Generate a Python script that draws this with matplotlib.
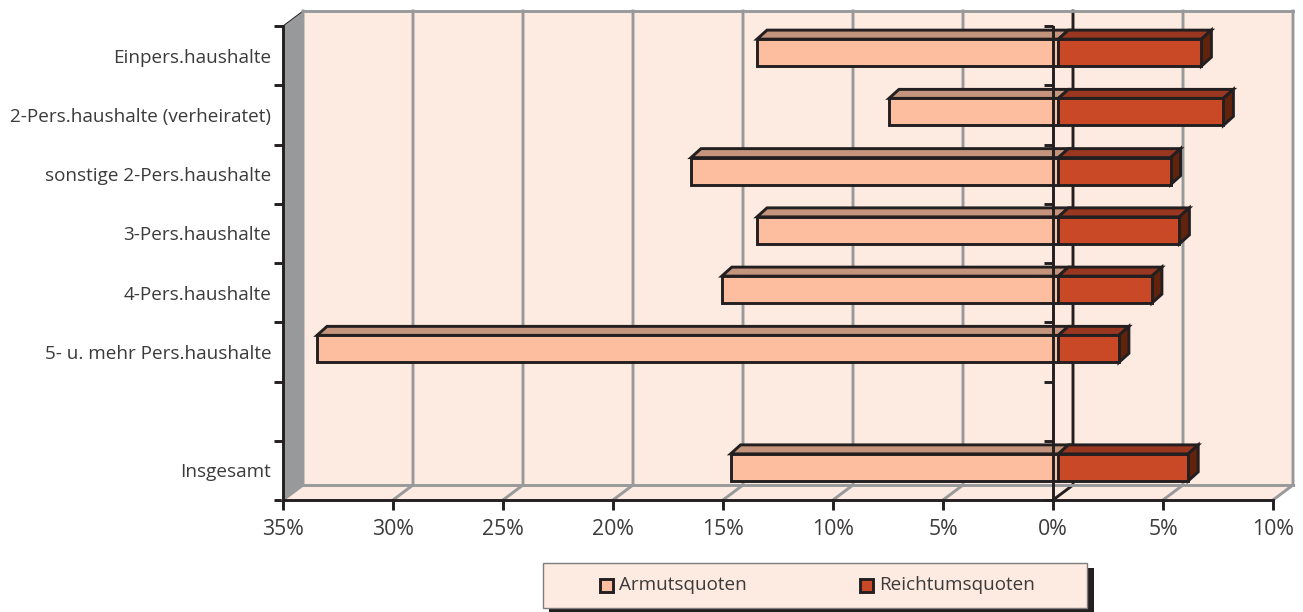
import matplotlib
matplotlib.use("Agg")
import matplotlib.pyplot as plt
from matplotlib.patches import Polygon, Rectangle
import numpy as np

kategorien = [
    "Einpers.haushalte",
    "2-Pers.haushalte (verheiratet)",
    "sonstige 2-Pers.haushalte",
    "3-Pers.haushalte",
    "4-Pers.haushalte",
    "5- u. mehr Pers.haushalte",
    "",
    "Insgesamt",
]
armut = [-13.7, -7.7, -16.7, -13.7, -15.3, -33.7, np.nan, -14.9]
reichtum = [6.5, 7.5, 5.1, 5.5, 4.25, 2.75, np.nan, 5.9]
x_ticks = [-35, -30, -25, -20, -15, -10, -5, 0, 5, 10]

plt.rcParams["font.family"] = ["Open Sans", "DejaVu Sans"]

W, H = 1303, 612
SCHWARZ = "#231f20"
GRAU = "#98999b"
PEACH = "#fdeae0"
TEXT = "#3c3a3b"
FS = 13.6
FS_X = 15.3
LW = 2.1

# Abstaende in Pixel umgerechnet auf Datenkoordinaten
PX_X = 1 / 22.0
PX_Y = 1 / 59.25


def dx(px):
    return px * PX_X


def dy(px):
    return px * PX_Y


fig = plt.figure(figsize=(W / 100, H / 100), dpi=100)
ax = fig.add_axes([283 / W, 1 - 500 / H, 990 / W, 474 / H])
ax.set_xlim(-35, 10)
ax.set_ylim(8, 0)
ax.patch.set_visible(False)
for s in ["top", "right"]:
    ax.spines[s].set_visible(False)
for s in ["left", "bottom"]:
    ax.spines[s].set_linewidth(LW)
    ax.spines[s].set_color(SCHWARZ)
    ax.spines[s].set_zorder(6)

# 3D Kasten
tx, ty = dx(20), dy(15)
ax.add_patch(Polygon([(-35 + tx, -ty), (10 + tx, -ty), (10 + tx, 8 - ty), (-35 + tx, 8 - ty)],
                     fc=PEACH, ec="none", zorder=0, clip_on=False))
ax.add_patch(Polygon([(-35, 8), (-35 + tx, 8 - ty), (10 + tx, 8 - ty), (10, 8)],
                     fc=PEACH, ec="none", zorder=0, clip_on=False))
ax.add_patch(Polygon([(-35, 0), (-35 + tx, -ty), (-35 + tx, 8 - ty), (-35, 8)],
                     fc=GRAU, ec="none", zorder=1, clip_on=False))
ax.plot([-35, -35 + tx], [0, -ty], color=SCHWARZ, lw=0.7, zorder=1, clip_on=False)
for v in x_ticks:
    farbe = SCHWARZ if v == 0 else GRAU
    ax.plot([v + tx, v + tx, v], [-ty, 8 - ty, 8], color=farbe, lw=LW, zorder=2,
            clip_on=False, solid_joinstyle="miter")
ax.plot([-35 + tx, 10 + tx], [-ty, -ty], color=GRAU, lw=LW, zorder=2, clip_on=False)
ax.plot([-35 + tx, 10 + tx], [8 - ty, 8 - ty], color=GRAU, lw=LW, zorder=2, clip_on=False)

# Balken
sx, sy = dx(5.4), dy(3)
tiefe_x, tiefe_y = dx(10), dy(9)
hoehe = 27 / 59.25
y = np.arange(len(kategorien)) + 0.5
for yi, a, r in zip(y, armut, reichtum):
    if np.isnan(a):
        continue
    oben = yi - sy - hoehe / 2
    unten = yi - sy + hoehe / 2
    ax.add_patch(Polygon([(a + sx, oben), (a + sx + tiefe_x, oben - tiefe_y),
                          (sx + tiefe_x, oben - tiefe_y), (sx, oben)],
                         fc="#c4957c", ec=SCHWARZ, lw=LW, zorder=3, joinstyle="miter"))
    ax.add_patch(Polygon([(sx, oben), (sx + tiefe_x, oben - tiefe_y),
                          (r + sx + tiefe_x, oben - tiefe_y), (r + sx, oben)],
                         fc="#9a3720", ec=SCHWARZ, lw=LW, zorder=3, joinstyle="miter"))
    ax.add_patch(Polygon([(r + sx, oben), (r + sx + tiefe_x, oben - tiefe_y),
                          (r + sx + tiefe_x, unten - tiefe_y), (r + sx, unten)],
                         fc="#62230c", ec=SCHWARZ, lw=LW, zorder=3, joinstyle="miter"))
    ax.barh(yi - sy, a, height=hoehe, left=sx, color="#fdbd9f", edgecolor=SCHWARZ,
            linewidth=LW, zorder=4)
    ax.barh(yi - sy, r, height=hoehe, left=sx, color="#c94825", edgecolor=SCHWARZ,
            linewidth=LW, zorder=4)

# Achse bei 0 mit Strichen
ax.axvline(0, color=SCHWARZ, lw=LW, zorder=5)
ax.hlines(np.arange(0, 9), -dx(9), 0, color=SCHWARZ, lw=LW, zorder=5, clip_on=False)

ax.set_xticks(x_ticks)
ax.set_xticklabels([f"{abs(v)}%" for v in x_ticks], fontsize=FS_X, color=TEXT)
ax.tick_params(axis="x", length=7, width=LW, color=SCHWARZ, pad=6.5)
ax.set_yticks(np.arange(0, 9))
ax.set_yticklabels([])
ax.tick_params(axis="y", which="major", length=6.5, width=LW, color=SCHWARZ)
ax.set_yticks(y, minor=True)
ax.set_yticklabels(kategorien, minor=True, fontsize=FS, color=TEXT)
ax.tick_params(axis="y", which="minor", length=0, pad=8.5)


# Legende
def fx(px):
    return px / W


def fy(px):
    return 1 - px / H


fig.add_artist(Rectangle((fx(549), fy(612)), 545 / W, 44 / H, fc=SCHWARZ, ec="none",
                         transform=fig.transFigure))
fig.add_artist(Rectangle((fx(543), fy(608)), 544 / W, 45.5 / H, fc=PEACH, ec="#7f7d7e", lw=1,
                         transform=fig.transFigure))
for x0, farbe, name in [(600, "#fdbd9f", "Armutsquoten"), (860, "#c94825", "Reichtumsquoten")]:
    fig.add_artist(Rectangle((fx(x0), fy(592)), 13 / W, 13 / H, fc=farbe, ec=SCHWARZ, lw=LW,
                             transform=fig.transFigure))
    fig.text(fx(x0 + 19), fy(585), name, fontsize=FS, color=TEXT, va="center", ha="left")

fig.savefig("out.png", dpi=100)
